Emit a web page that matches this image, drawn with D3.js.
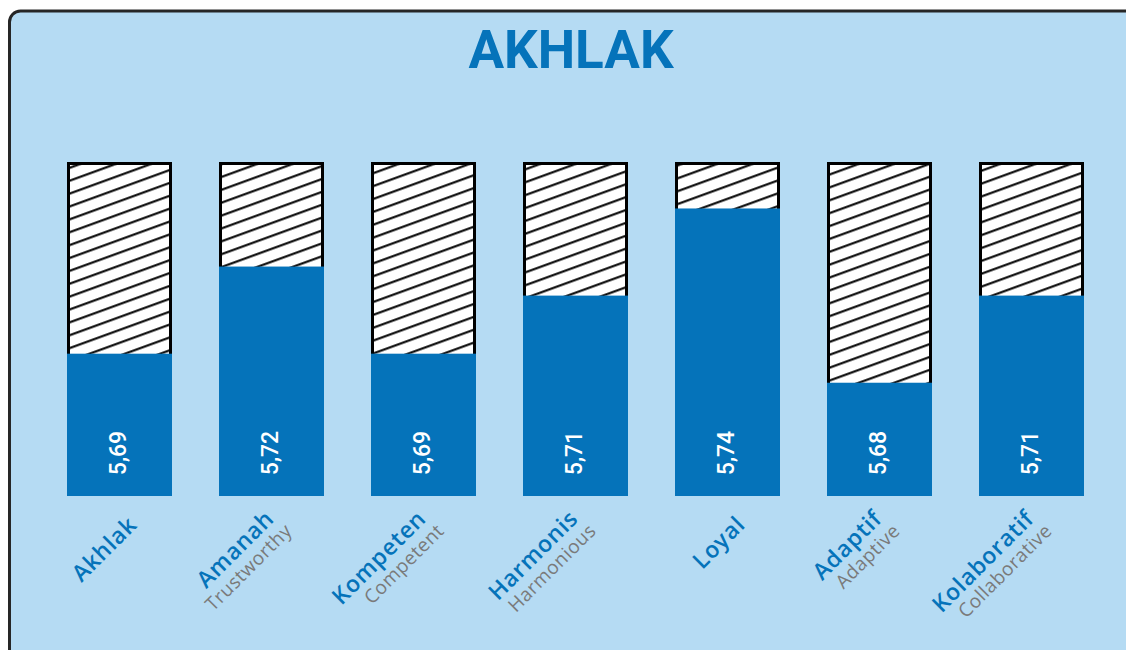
<!DOCTYPE html>
<html>
<head>
<meta charset="utf-8">
<script src="https://cdn.jsdelivr.net/npm/d3@7"></script>
<style>
  html, body { margin: 0; padding: 0; background: #ffffff; }
  svg { display: block; }
</style>
</head>
<body>
<svg id="chart" width="1126" height="650"></svg>
<script>
// AKHLAK core values – average scores
const categories = ["Akhlak", "Amanah", "Kompeten", "Harmonis", "Loyal", "Adaptif", "Kolaboratif"];
const subtitles  = ["", "Trustworthy", "Competent", "Harmonious", "", "Adaptive", "Collaborative"];
const scores     = [5.69, 5.72, 5.69, 5.71, 5.74, 5.68, 5.71];
const scoreRange = [5.641, 5.756];

const W = 1126, H = 650;
const BLUE = "#0573BA", PANEL = "#B5DBF3", GREY = "#7a7a7a";

const svg = d3.select("#chart");
const defs = svg.append("defs");

// diagonal hatching for the empty part of each column
const hatch = defs.append("pattern")
  .attr("id", "hatch")
  .attr("patternUnits", "userSpaceOnUse")
  .attr("width", 60).attr("height", 12.1)
  .attr("patternTransform", "translate(0,174) rotate(-20)");
hatch.append("rect").attr("width", 60).attr("height", 12.1).attr("fill", "#fff");
hatch.append("line")
  .attr("x1", -1).attr("x2", 61).attr("y1", 6).attr("y2", 6)
  .attr("stroke", "#000").attr("stroke-width", 2);

// panel
svg.append("rect")
  .attr("x", 9.5).attr("y", 11).attr("width", W + 40).attr("height", H + 40)
  .attr("rx", 11).attr("fill", PANEL)
  .attr("stroke", "#262626").attr("stroke-width", 3);

// title
svg.append("text")
  .attr("x", 571).attr("y", 68)
  .attr("text-anchor", "middle")
  .attr("font-family", "Roboto, 'Liberation Sans', sans-serif")
  .attr("font-weight", 700).attr("font-size", 53)
  .attr("fill", BLUE)
  .text("AKHLAK");

// scales
const x = d3.scalePoint().domain(categories).range([119.5, 1031.5]);
const barW = 105;
const y = d3.scaleLinear().domain(scoreRange).range([496, 162]);

const fmt = d3.formatLocale({ decimal: ",", thousands: ".", grouping: [3], currency: ["", ""] }).format(".2f");

const data = categories.map((c, i) => ({ name: c, sub: subtitles[i], value: scores[i] }));

const g = svg.append("g");
const col = g.selectAll("g.col").data(data).join("g").attr("class", "col");

// full-height hatched box
col.append("rect")
  .attr("x", d => x(d.name) - barW / 2 + 1.5)
  .attr("y", y(scoreRange[1]) + 1.5)
  .attr("width", barW - 3)
  .attr("height", y(scoreRange[0]) - y(scoreRange[1]) - 3)
  .attr("fill", "url(#hatch)")
  .attr("stroke", "#000").attr("stroke-width", 3);

// score bar
col.append("rect")
  .attr("x", d => x(d.name) - barW / 2)
  .attr("y", d => y(d.value))
  .attr("width", barW)
  .attr("height", d => y(scoreRange[0]) - y(d.value))
  .attr("fill", BLUE);

// value labels
col.append("text")
  .attr("transform", d => `translate(${x(d.name)},453) rotate(-90)`)
  .attr("y", 6)
  .attr("text-anchor", "middle")
  .attr("font-family", "Roboto, sans-serif")
  .attr("font-weight", 500).attr("font-size", 23)
  .attr("fill", "#fff")
  .text(d => fmt(d.value));

// category labels
const lab = col.append("g")
  .attr("transform", d => d.sub
    ? `translate(${x(d.name) + 4},520) rotate(-45)`
    : `translate(${x(d.name) + 19},526) rotate(-45)`);

lab.append("text")
  .attr("text-anchor", "end")
  .attr("font-family", "'Open Sans', sans-serif")
  .attr("font-weight", 600).attr("font-size", 23)
  .attr("letter-spacing", 0.8)
  .attr("fill", BLUE)
  .text(d => d.name);

lab.filter(d => d.sub).append("text")
  .attr("x", 4).attr("y", 21)
  .attr("text-anchor", "end")
  .attr("font-family", "'Open Sans', sans-serif")
  .attr("font-weight", 400).attr("font-size", 19)
  .attr("letter-spacing", 0.5)
  .attr("fill", GREY)
  .text(d => d.sub);
</script>
</body>
</html>
